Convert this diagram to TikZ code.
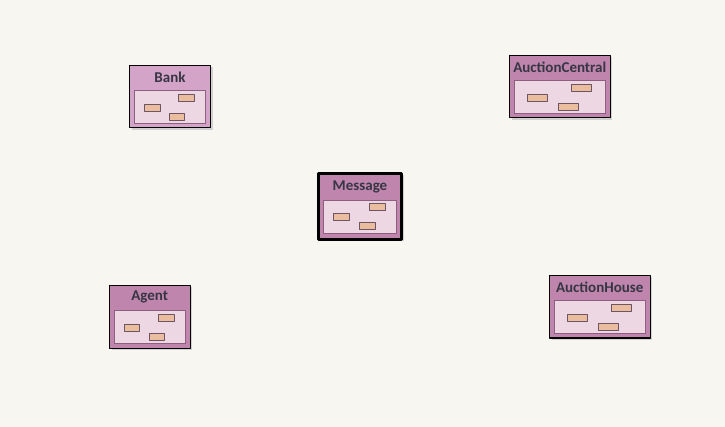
\documentclass[tikz,border=0pt]{standalone}
\usepackage{fontspec}
\setmainfont{Carlito}
\definecolor{paper}{HTML}{F8F6F1}
\definecolor{classmauve}{HTML}{C085AD}
\definecolor{classpale}{HTML}{D4A3C8}
\definecolor{bodypink}{HTML}{ECD7E2}
\definecolor{bodyline}{HTML}{8C5F80}
\definecolor{slotpeach}{HTML}{E9BD9E}
\definecolor{slotline}{HTML}{6D5566}
\definecolor{titleink}{HTML}{363644}

% one class box: name, left, top, width, height, label, extra style
\newcommand{\classbox}[7]{%
  \fill[boxshadow] ({#2+2},{#3+2}) rectangle ++(#4,#5);
  \node[classouter, minimum width=#4pt, minimum height=#5pt, #7] (#1) at (#2,#3) {};
  \pgfmathsetmacro{\titledy}{11.5+0.5*(#5-62.5)}
  \pgfmathsetmacro{\bodydy}{25+0.45*(#5-62.5)}
  \node[classtitle] (#1-title) at ([yshift=-\titledy pt]#1.north) {#6};
  \pgfmathsetmacro{\bodyw}{#4-10}
  \pgfmathsetmacro{\slotw}{0.22*\bodyw}
  \pgfmathsetmacro{\slotax}{0.25*\bodyw}
  \pgfmathsetmacro{\slotbx}{0.735*\bodyw}
  \pgfmathsetmacro{\slotcx}{0.60*\bodyw}
  \node[classbody, minimum width=\bodyw pt] (#1-body) at ([yshift=-\bodydy pt]#1.north) {};
  \node[slot, minimum width=\slotw pt] (#1-a) at ([xshift=\slotax pt, yshift=-17pt]#1-body.north west) {};
  \node[slot, minimum width=\slotw pt] (#1-b) at ([xshift=\slotbx pt, yshift=-7pt]#1-body.north west) {};
  \node[slot, minimum width=\slotw pt] (#1-c) at ([xshift=\slotcx pt, yshift=-26pt]#1-body.north west) {};
}

\begin{document}
\begin{tikzpicture}[x=1pt,y=-1pt,line join=round,
    boxshadow/.style={fill=black!18},
    classouter/.style={draw=black, line width=1pt, fill=classmauve, anchor=north west, inner sep=0pt, outer sep=0pt},
    classtitle/.style={text=titleink, font=\bfseries\fontsize{15}{17}\selectfont, inner sep=0pt},
    classbody/.style={draw=bodyline, line width=0.8pt, fill=bodypink, anchor=north, minimum height=33pt, inner sep=0pt, outer sep=0pt},
    slot/.style={draw=slotline, line width=0.9pt, fill=slotpeach, minimum height=7pt, inner sep=0pt, outer sep=0pt}]
  \useasboundingbox[fill=paper] (0,0) rectangle (725,427);

  \classbox{bank}{129.5}{65.5}{81}{62.5}{Bank}{fill=classpale}
  \classbox{auctioncentral}{509.5}{55.5}{100.5}{62.5}{AuctionCentral}{}
  \classbox{message}{318.5}{173.5}{83}{66}{Message}{line width=3.5pt}
  \classbox{agent}{109.5}{285.5}{80.5}{62.5}{Agent}{}
  \classbox{auctionhouse}{549.5}{275.5}{100.5}{62.5}{AuctionHouse}{}
\end{tikzpicture}
\end{document}
